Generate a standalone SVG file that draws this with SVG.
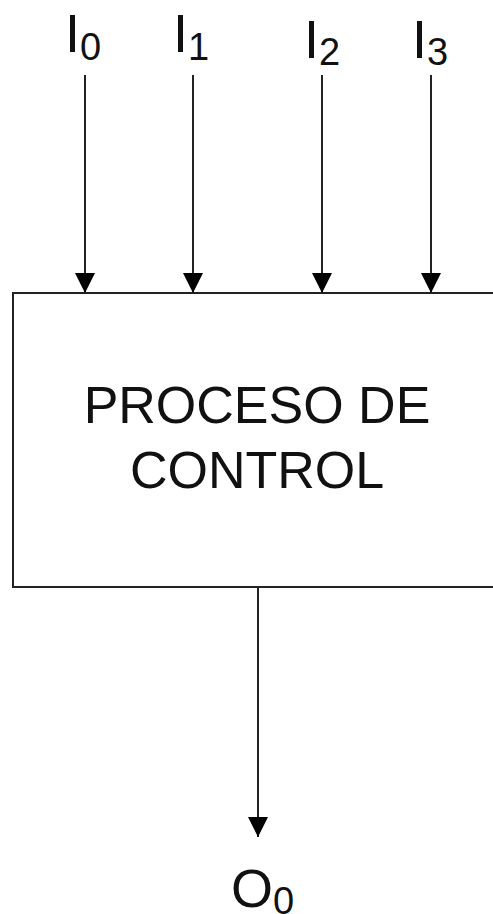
<svg xmlns="http://www.w3.org/2000/svg" width="493" height="914" viewBox="0 0 493 914">
<style>
.t{font-family:"Liberation Sans",Arial,sans-serif;fill:#111}
.big{font-size:54px}
.sub{font-size:38px}
.mid{font-size:52px;text-anchor:middle}
.ln{stroke:#222;stroke-width:2;fill:none}
</style>
<defs>
<marker id="ah" markerUnits="userSpaceOnUse" markerWidth="20" markerHeight="20" refX="20" refY="10" orient="auto" viewBox="0 0 20 20">
<path d="M0,0 L20,10 L0,20 Z" fill="#000"/>
</marker>
</defs>
<rect width="493" height="914" fill="#fff"/>
<g id="labels">
<g id="I0"><text class="t big" x="65" y="52">I<tspan class="sub" dy="8">0</tspan></text></g>
<g id="I1"><text class="t big" x="173" y="52">I<tspan class="sub" dy="8">1</tspan></text></g>
<g id="I2"><text class="t big" x="304" y="58">I<tspan class="sub" dy="7">2</tspan></text></g>
<g id="I3"><text class="t big" x="412" y="58">I<tspan class="sub" dy="7">3</tspan></text></g>
<g id="O0"><text class="t big" x="231" y="907">O<tspan class="sub" dy="7">0</tspan></text></g>
</g>
<g id="proceso">
<rect class="ln" x="13" y="293" width="500" height="294"/>
<text class="t mid" x="257" y="423">PROCESO DE</text>
<text class="t mid" x="257" y="488">CONTROL</text>
</g>
<g id="connectors">
<line class="ln" x1="85" y1="75" x2="85" y2="293" marker-end="url(#ah)"/>
<line class="ln" x1="193" y1="75" x2="193" y2="293" marker-end="url(#ah)"/>
<line class="ln" x1="322" y1="75" x2="322" y2="293" marker-end="url(#ah)"/>
<line class="ln" x1="431" y1="75" x2="431" y2="293" marker-end="url(#ah)"/>
<line class="ln" x1="258" y1="587" x2="258" y2="837" marker-end="url(#ah)"/>
</g>
</svg>
